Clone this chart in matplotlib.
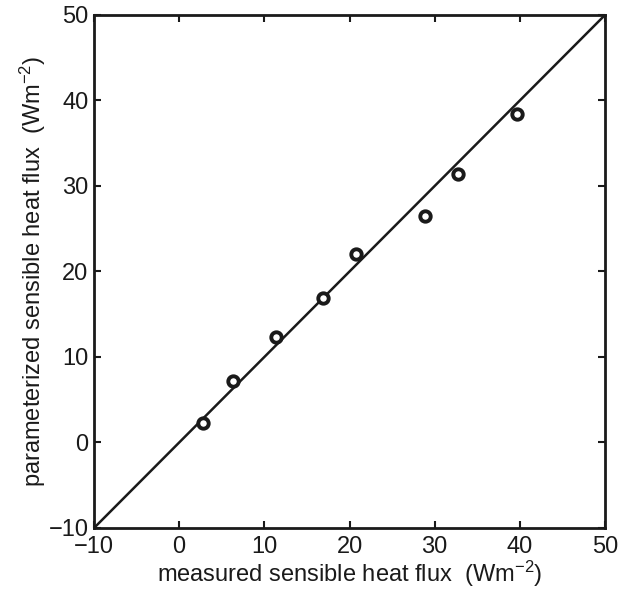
import matplotlib
matplotlib.use("Agg")
import matplotlib.pyplot as plt

# measured vs parameterized sensible heat flux (W m^-2)
measured = [2.8, 6.3, 11.4, 16.9, 20.8, 28.9, 32.7, 39.7]
parameterized = [2.3, 7.2, 12.3, 16.9, 22.0, 26.5, 31.4, 38.4]
one_to_one = [-10, 50]
ticks = [-10, 0, 10, 20, 30, 40, 50]

plt.rcParams['font.family'] = ['Liberation Sans', 'DejaVu Sans']
plt.rcParams['mathtext.fontset'] = 'custom'
plt.rcParams['mathtext.rm'] = 'Liberation Sans'
plt.rcParams['mathtext.it'] = 'Liberation Sans'

fig = plt.figure(figsize=(6.28, 5.90), dpi=100)
ax = fig.add_axes([0.1497, 0.1051, 0.8137, 0.8695])

ax.plot(one_to_one, one_to_one, color='#1a1a1a', linewidth=1.8)
ax.plot(measured, parameterized, linestyle='none', marker='o',
        markersize=7.5, markerfacecolor='white', markeredgecolor='#1a1a1a',
        markeredgewidth=2.8)

ax.set_xlim(-10, 50)
ax.set_ylim(-10, 50)
ax.set_xticks(ticks)
ax.set_yticks(ticks)
ax.tick_params(direction='in', length=5, width=1.5, top=True, right=True,
               labelsize=17, colors='#1a1a1a', pad=4)
ax.tick_params(axis='x', pad=6)
for s in ax.spines.values():
    s.set_linewidth(2)
    s.set_color('#1a1a1a')

ax.set_xlabel(r'measured sensible heat flux  (Wm$^{-2}$)', fontsize=17,
              color='#1a1a1a', labelpad=0.5)
ax.set_ylabel(r'parameterized sensible heat flux  (Wm$^{-2}$)', fontsize=17,
              color='#1a1a1a', labelpad=0.5)

plt.savefig('out.png', dpi=100)
